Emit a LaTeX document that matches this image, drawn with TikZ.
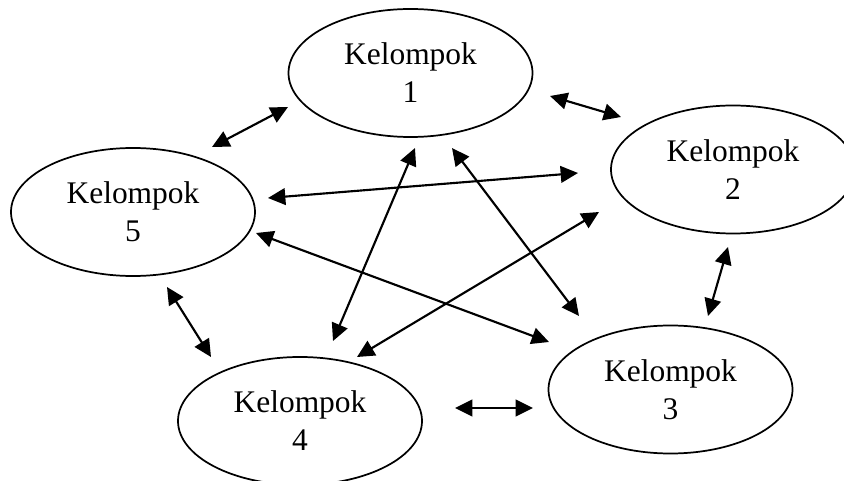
\documentclass[tikz,border=0pt]{standalone}
\usepackage{fontspec}
\setmainfont{Liberation Serif}
\usetikzlibrary{shapes.geometric,arrows.meta}

\begin{document}
\begin{tikzpicture}[x=0.75pt,y=-0.75pt,
  group/.style={draw, ellipse, line width=1.3pt, minimum width=183pt,
    minimum height=96pt, inner sep=0pt, align=center,
    font=\fontsize{23.6}{28.5}\selectfont},
  link/.style={{Triangle[length=13pt,width=12.5pt]}-{Triangle[length=13pt,width=12.5pt]},
    line width=1.6pt}]
  \useasboundingbox (0,0) rectangle (844,481);
  \clip (0,0) rectangle (844,481);

  % the five groups
  \node[group] (k1) at (410.5,73)  {Kelompok\\1};
  \node[group] (k2) at (733,169.5) {Kelompok\\2};
  \node[group] (k3) at (670.5,389.5) {Kelompok\\3};
  \node[group] (k4) at (300,421) {Kelompok\\4};
  \node[group] (k5) at (133,212) {Kelompok\\5};

  % arrow end points
  \coordinate (a15a) at (212,147);  \coordinate (a15b) at (288,107);
  \coordinate (a12a) at (550,96);   \coordinate (a12b) at (621,117);
  \coordinate (a52a) at (268,198);  \coordinate (a52b) at (578,173);
  \coordinate (a14a) at (415,148);  \coordinate (a14b) at (333,341);
  \coordinate (a13a) at (452,148);  \coordinate (a13b) at (579,316);
  \coordinate (a53a) at (256,233);  \coordinate (a53b) at (549,342);
  \coordinate (a24a) at (599,212);  \coordinate (a24b) at (357,357);
  \coordinate (a54a) at (167,287);  \coordinate (a54b) at (211,357);
  \coordinate (a43a) at (455,408);  \coordinate (a43b) at (533,408);
  \coordinate (a23a) at (728,247);  \coordinate (a23b) at (708,316);

  % two-way links between groups
  \draw[link] (a15a) -- (a15b);
  \draw[link] (a12a) -- (a12b);
  \draw[link] (a52a) -- (a52b);
  \draw[link] (a14a) -- (a14b);
  \draw[link] (a13a) -- (a13b);
  \draw[link] (a53a) -- (a53b);
  \draw[link] (a24a) -- (a24b);
  \draw[link] (a54a) -- (a54b);
  \draw[link] (a43a) -- (a43b);
  \draw[link] (a23a) -- (a23b);
\end{tikzpicture}
\end{document}
